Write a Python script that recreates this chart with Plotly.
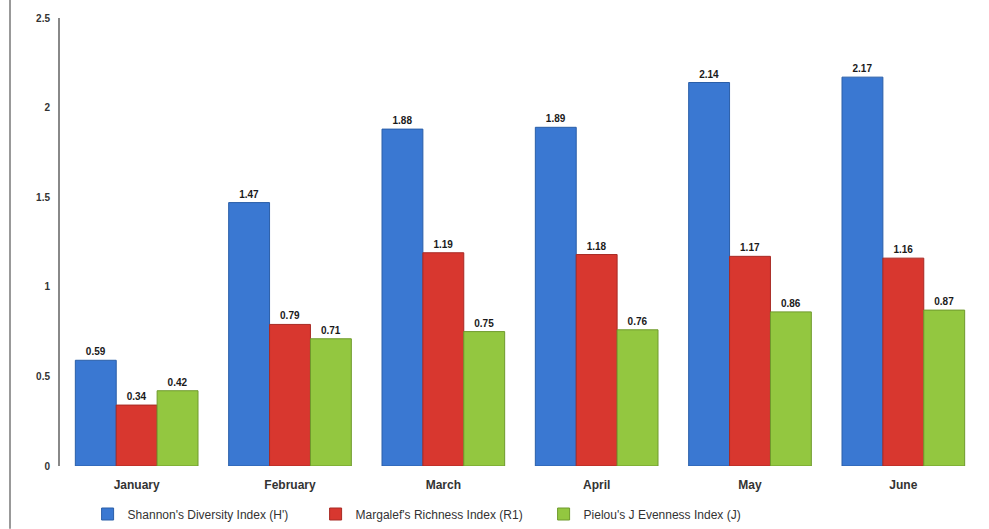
import plotly.graph_objects as go

months = ["January", "February", "March", "April", "May", "June"]
shannon = [0.59, 1.47, 1.88, 1.89, 2.14, 2.17]
margalef = [0.34, 0.79, 1.19, 1.18, 1.17, 1.16]
pielou = [0.42, 0.71, 0.75, 0.76, 0.86, 0.87]
names = ["Shannon's Diversity Index (H')", "Margalef's Richness Index (R1)", "Pielou's J Evenness Index (J)"]
colors = ["#3a78d2", "#d8372f", "#93c740"]
edges = ["#2a5ea8", "#a82a24", "#6f9a2c"]

fig = go.Figure()
for vals, name, c, e in zip([shannon, margalef, pielou], names, colors, edges):
    fig.add_trace(go.Bar(
        x=months, y=vals, name=name,
        marker=dict(color=c, line=dict(color=e, width=1)),
        text=[f"{v:.2f}" for v in vals], textposition="outside",
        textfont=dict(family="Liberation Sans, Arial", size=10, color="#1a1a1a", weight="bold"),
        cliponaxis=False,
    ))

fig.update_layout(
    width=989, height=529,
    margin=dict(l=60, r=9, t=18, b=63, autoexpand=False),
    paper_bgcolor="white", plot_bgcolor="white",
    barmode="group", bargap=0.2, bargroupgap=0,
    font=dict(family="Liberation Sans, Arial", size=11, color="#333333"),
    showlegend=True,
    legend=dict(orientation="h", x=0.03, xanchor="left",
                yref="container", y=15/529, yanchor="middle",
                font=dict(size=12, color="#333333"),
                entrywidth=183, entrywidthmode="pixels", itemwidth=30,
                traceorder="normal"),
    xaxis=dict(showline=False, ticks="", ticklabelstandoff=10, automargin=False,
               tickfont=dict(size=12, color="#333333", weight="bold")),
    yaxis=dict(range=[0, 2.5], tickvals=[0, 0.5, 1, 1.5, 2, 2.5],
               ticktext=["0", "0.5", "1", "1.5", "2", "2.5"], automargin=False,
               showgrid=False, zeroline=False, showline=True, linecolor="#888888",
               linewidth=2, ticks="", ticklabelstandoff=6,
               tickfont=dict(size=10, color="#333333", weight="bold")),
    shapes=[dict(type="line", xref="paper", yref="paper",
                 x0=-50/920, x1=-50/920, y0=-0.14, y1=1.04,
                 line=dict(color="#999999", width=2))],
)

fig.write_html("out.html")
